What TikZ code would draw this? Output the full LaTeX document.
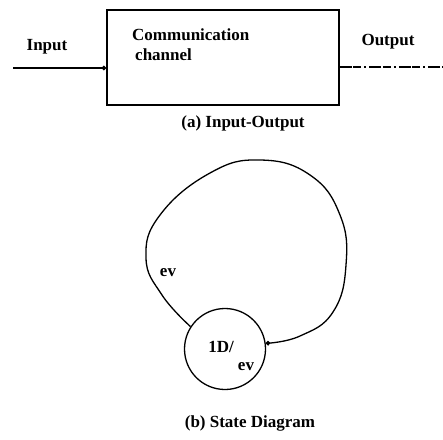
\documentclass[tikz,border=0pt]{standalone}
\usepackage{fontspec}
\setmainfont{Liberation Serif}
\usetikzlibrary{arrows.meta}
\begin{document}
\begin{tikzpicture}[x=1pt,y=-1pt,
  every node/.style={font=\fontsize{17}{20}\selectfont\bfseries},
  wire/.style={line width=1.3pt},
  tip/.style={-{Circle[length=4.5pt]}},
  block/.style={draw,line width=1.6pt,minimum width=232pt,minimum height=95pt,inner sep=0pt},
  statenode/.style={draw,circle,line width=1.3pt,minimum size=81pt,inner sep=0pt},
  lbl/.style={inner sep=0pt}]
\useasboundingbox (0,0) rectangle (443,439);

% (a) input-output block
\node[block] (chan) at (223,57.5) {};
\node[lbl,align=left,anchor=north west] (chantext) at (132,29)
  {Communication\\\hspace*{3pt}channel};
\node[lbl] (inlabel) at (47,47) {Input};
\node[lbl] (outlabel) at (388,42) {Output};
\coordinate (inend) at (13,68);
\coordinate (outend) at (443,67);
\draw[wire,tip] (inend) -- (inend -| chan.west);
\draw[wire,dash pattern=on 12pt off 1.5pt on 8pt off 3pt on 2pt off 3pt] (outend -| chan.east) -- (outend);
\node[lbl] (capa) at (243,123) {(a) Input-Output};

% (b) state diagram
\node[statenode] (state) at (225,349) {};
\node[lbl] (stname) at (221,347) {1D/};
\node[lbl] (stsub) at (246,367) {ev};
\draw[wire,tip] plot[smooth,tension=0.75] coordinates {
  (state.147) (162,295) (146,258) (160,215) (210,173) (260,160)
  (310,175) (340,215) (346,265) (333,312) (300,336) (state.8)};
\node[lbl] (evlabel) at (168,273) {ev};
\node[lbl] (capb) at (250,423) {(b) State Diagram};
\end{tikzpicture}
\end{document}
